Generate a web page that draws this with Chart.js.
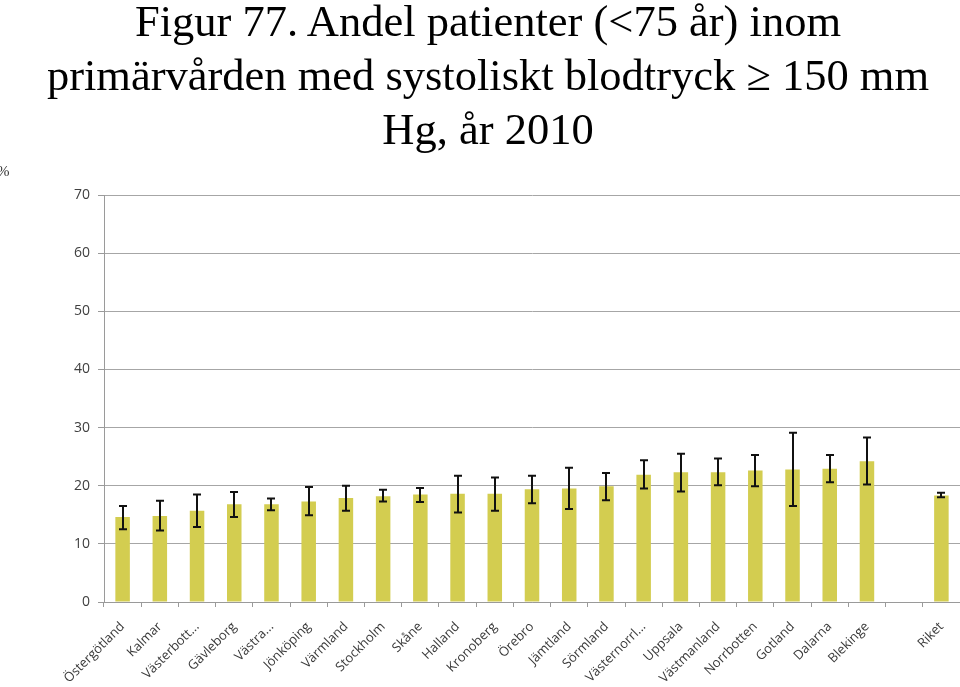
<!DOCTYPE html>
<html>
<head>
<meta charset="utf-8">
<script src="https://cdn.jsdelivr.net/npm/chart.js@4"></script>
<style>
  html, body { margin:0; padding:0; background:#fff; }
  #wrap { position:relative; width:960px; height:687px; overflow:hidden; }
  #title { position:absolute; left:8px; top:-6px; width:960px; text-align:center;
           font-family:"Liberation Serif","Times New Roman",serif; font-size:44.5px; line-height:54px; color:#000; }
  #unit { position:absolute; left:-3px; top:163px; font-family:"Liberation Serif",serif; font-size:15px; color:#333; }
  canvas { position:absolute; left:0; top:0; }
</style>
</head>
<body>
<div id="wrap">
  <canvas id="c" width="960" height="687"></canvas>
  <div id="title">Figur 77. Andel patienter (&lt;75 år) inom<br>primärvården med systoliskt blodtryck ≥ 150 mm<br>Hg, år 2010</div>
  <div id="unit">%</div>
</div>
<script>
const categories = ["Östergötland","Kalmar","Västerbott...","Gävleborg","Västra...","Jönköping","Värmland","Stockholm","Skåne","Halland","Kronoberg","Örebro","Jämtland","Sörmland","Västernorrl...","Uppsala","Västmanland","Norrbotten","Gotland","Dalarna","Blekinge","","Riket"];
const values   = [14.6,14.8,15.7,16.8,16.8,17.3,17.9,18.2,18.5,18.6,18.6,19.4,19.5,19.9,21.9,22.3,22.3,22.6,22.8,22.9,24.2,null,18.3];
const errLower = [12.5,12.3,12.9,14.6,15.8,14.9,15.7,17.3,17.2,15.4,15.7,17.0,16.0,17.5,19.5,19.0,20.1,19.9,16.5,20.6,20.2,null,18.0];
const errUpper = [16.5,17.4,18.5,18.9,17.8,19.8,20.0,19.3,19.6,21.7,21.4,21.7,23.1,22.2,24.4,25.5,24.7,25.3,29.1,25.3,28.3,null,18.8];
const yTicks = [0,10,20,30,40,50,60,70];

const errorBars = {
  id: 'errorBars',
  afterDatasetsDraw(chart) {
    const meta = chart.getDatasetMeta(0);
    const y = chart.scales.y;
    const ctx = chart.ctx;
    ctx.save();
    ctx.strokeStyle = '#111';
    ctx.lineWidth = 2;
    meta.data.forEach((bar, i) => {
      if (errLower[i] == null) return;
      const x = Math.round(bar.x);
      const yl = y.getPixelForValue(errLower[i]);
      const yh = y.getPixelForValue(errUpper[i]);
      ctx.beginPath();
      ctx.moveTo(x, yl); ctx.lineTo(x, yh);
      ctx.moveTo(x - 4, yl); ctx.lineTo(x + 4, yl);
      ctx.moveTo(x - 4, yh); ctx.lineTo(x + 4, yh);
      ctx.stroke();
    });
    ctx.restore();
  }
};

new Chart(document.getElementById('c'), {
  type: 'bar',
  data: {
    labels: categories,
    datasets: [{
      data: values,
      backgroundColor: '#D3CD50',
      borderWidth: 0,
      barPercentage: 0.39,
      categoryPercentage: 1.0
    }]
  },
  options: {
    responsive: false,
    animation: false,
    events: [],
    layout: { padding: { top: 195, right: 0, left: 0, bottom: 0 } },
    plugins: { legend: { display: false }, tooltip: { enabled: false }, title: { display: false } },
    scales: {
      x: {
        offset: true,
        grid: { display: true, drawOnChartArea: false, offset: true, color: '#9a9a9a', tickLength: 5, tickColor: '#9a9a9a' },
        border: { display: true, color: '#9a9a9a', width: 1 },
        ticks: { autoSkip: false, maxRotation: 45, minRotation: 45, color: '#3a3a3a',
                 font: { family: 'Open Sans', size: 13 }, padding: 12 },
        afterFit(s) { s.height = 85; s.paddingRight = 0; s.paddingLeft = 0; }
      },
      y: {
        min: 0, max: 70,
        afterBuildTicks(s) { s.ticks = yTicks.map(v => ({ value: v })); },
        grid: { color: '#a6a6a6', lineWidth: 1, tickLength: 6, tickColor: '#9a9a9a' },
        border: { display: true, color: '#9a9a9a', width: 1 },
        ticks: { color: '#404040', font: { family: 'Open Sans', size: 14 }, padding: 8 },
        afterFit(s) { s.width = 104; }
      }
    }
  },
  plugins: [errorBars]
});
</script>
</body>
</html>
